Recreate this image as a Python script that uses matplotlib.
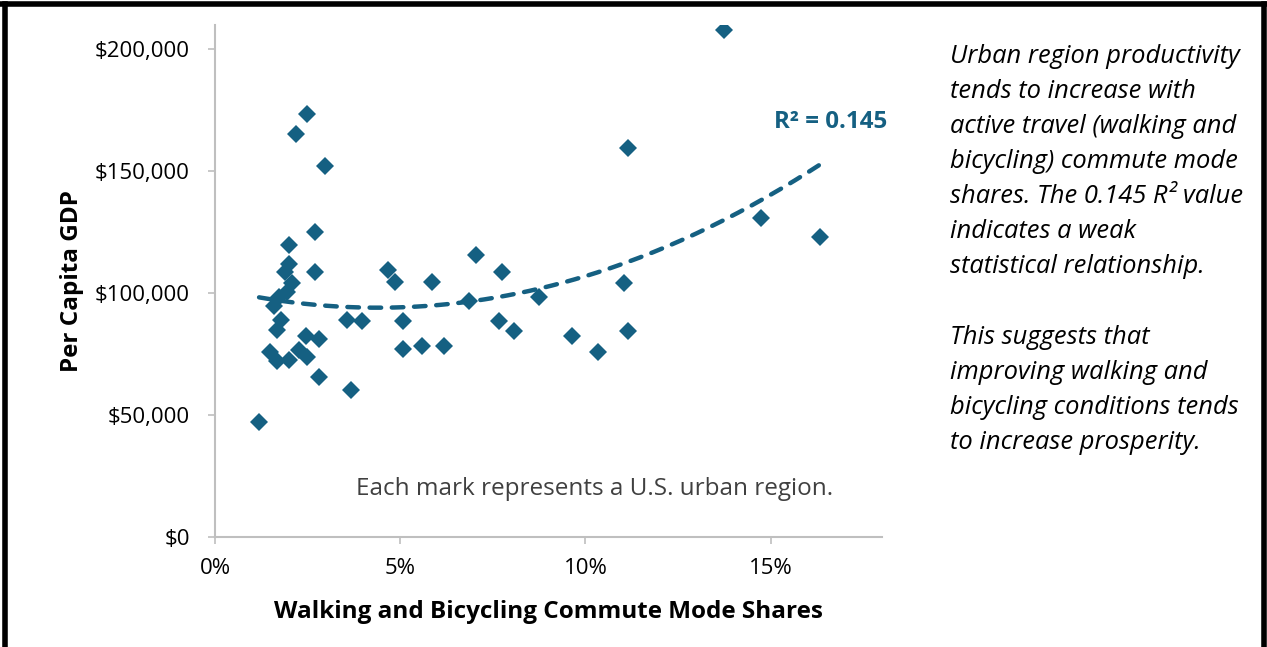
import numpy as np
import matplotlib
matplotlib.use('Agg')
import matplotlib.pyplot as plt
import matplotlib.ticker as mticker
from matplotlib.lines import Line2D

plt.rcParams['font.family'] = ['Open Sans', 'DejaVu Sans']

# walking + bicycling commute mode share (fraction) and per capita GDP ($)
mode_share = [0.0119, 0.0148, 0.0159, 0.0167, 0.0168, 0.0172, 0.0179, 0.0188,
              0.0195, 0.0199, 0.0199, 0.0201, 0.0209, 0.0219, 0.0228, 0.0248,
              0.0247, 0.0248, 0.0269, 0.0269, 0.0280, 0.0280, 0.0298, 0.0357,
              0.0368, 0.0398, 0.0468, 0.0487, 0.0507, 0.0507, 0.0558, 0.0587,
              0.0617, 0.0685, 0.0706, 0.0766, 0.0775, 0.0806, 0.0876, 0.0965,
              0.1035, 0.1104, 0.1114, 0.1116, 0.1374, 0.1474, 0.1633]
gdp = [47300, 75900, 94600, 85100, 72200, 98600, 89000, 108700,
       100300, 111800, 119700, 72600, 104300, 165300, 76600, 74000,
       82400, 173300, 125000, 108500, 81200, 65700, 152200, 89200,
       60200, 88400, 109500, 104500, 88500, 77300, 78500, 104500,
       78300, 96800, 115600, 88500, 108500, 84400, 98500, 82400,
       75900, 104000, 84400, 159400, 207800, 131000, 123100]

x_ticks = [0, 0.05, 0.10, 0.15]
y_ticks = [0, 50000, 100000, 150000, 200000]

blue = '#156082'
grey_axis = '#BFBFBF'

fig = plt.figure(figsize=(12.67, 6.47), dpi=100)
ax = fig.add_axes([215 / 1267, 1 - 537 / 647, (881.7 - 215) / 1267, (537 - 25) / 647])

ax.plot(mode_share, gdp, linestyle='none', marker='D', markersize=9,
        color=blue, markeredgewidth=0, zorder=3)

# second order polynomial trend line
xs = np.array(mode_share)
ys = np.array(gdp)
coef = np.polyfit(xs, ys, 2)
xfit = np.linspace(xs.min(), xs.max(), 200)
ax.plot(xfit, np.polyval(coef, xfit), color=blue, linewidth=3.2,
        dashes=(2.6, 2.4), dash_capstyle='round', zorder=2)

ax.set_xlim(0, 0.18)
ax.set_ylim(0, 210000)
ax.set_xticks(x_ticks)
ax.set_yticks(y_ticks)
ax.xaxis.set_major_formatter(mticker.FuncFormatter(lambda v, p: '%d%%' % round(v * 100)))
ax.yaxis.set_major_formatter(mticker.FuncFormatter(lambda v, p: '${:,.0f}'.format(v)))

for side in ['top', 'right']:
    ax.spines[side].set_visible(False)
for side in ['left', 'bottom']:
    ax.spines[side].set_color(grey_axis)
    ax.spines[side].set_linewidth(1.5)
ax.tick_params(axis='both', colors=grey_axis, length=5, width=1.2, labelsize=16,
               labelcolor='black')
ax.tick_params(axis='y', pad=13)
ax.tick_params(axis='x', pad=10)

ax.set_ylabel('Per Capita GDP', fontsize=17.5, fontweight='bold', labelpad=8)
ax.set_xlabel('Walking and Bicycling Commute Mode Shares', fontsize=17.5,
              fontweight='bold', labelpad=15)

fig.text(887 / 1267, 1 - 122 / 647, 'R\u00b2 = 0.145', color=blue, fontsize=17.4,
         fontweight='bold', ha='right', va='center')
fig.text(833 / 1267, 1 - 489 / 647, 'Each mark represents a U.S. urban region.',
         color='#404040', fontsize=17.5, ha='right', va='center')

note = ('Urban region productivity\n'
        'tends to increase with\n'
        'active travel (walking and\n'
        'bicycling) commute mode\n'
        'shares. The 0.145 R\u00b2 value\n'
        'indicates a weak\n'
        'statistical relationship.\n'
        '\n'
        'This suggests that\n'
        'improving walking and\n'
        'bicycling conditions tends\n'
        'to increase prosperity.')
fig.text(950 / 1267, 1 - 44 / 647, note, fontsize=18.4, style='italic',
         ha='left', va='top', linespacing=1.53)

# black frame around the figure
lw = 4
fig.add_artist(Line2D([5 / 1267, 5 / 1267], [0, 1 - 4 / 647], color='black', linewidth=lw))
fig.add_artist(Line2D([0, 1], [1 - 4 / 647, 1 - 4 / 647], color='black', linewidth=lw))
fig.add_artist(Line2D([1264 / 1267, 1264 / 1267], [0, 1 - 4 / 647], color='black', linewidth=lw))

fig.savefig('out.png', dpi=100)
